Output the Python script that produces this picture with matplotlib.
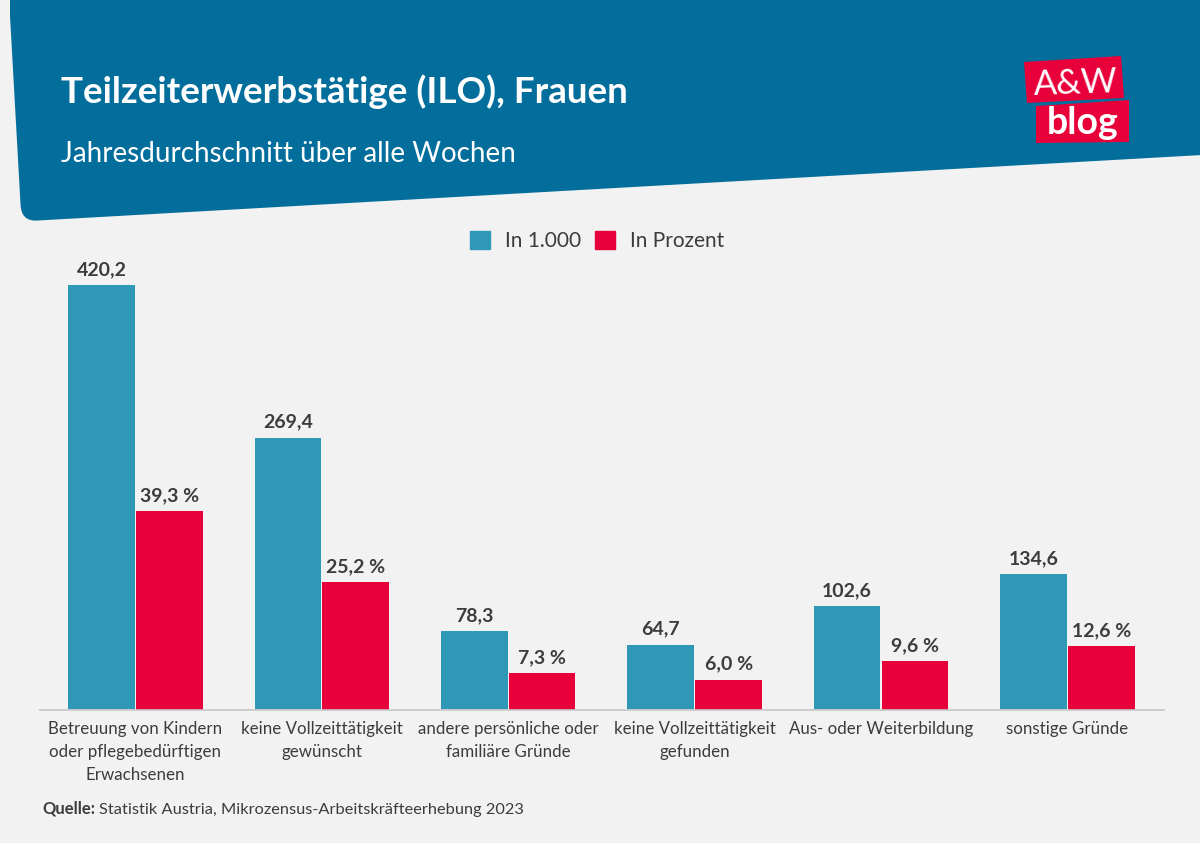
import matplotlib
matplotlib.use("Agg")
import matplotlib.pyplot as plt
from matplotlib.patches import PathPatch, Polygon, Patch
from matplotlib.path import Path

categories = [
    "Betreuung von Kindern\noder pflegebedürftigen\nErwachsenen",
    "keine Vollzeittätigkeit\ngewünscht",
    "andere persönliche oder\nfamiliäre Gründe",
    "keine Vollzeittätigkeit\ngefunden",
    "Aus- oder Weiterbildung",
    "sonstige Gründe",
]
in_tausend = [420.2, 269.4, 78.3, 64.7, 102.6, 134.6]
in_prozent = [39.3, 25.2, 7.3, 6.0, 9.6, 12.6]

BG = "#f2f2f2"
HEADER = "#036e9c"
BLUE = "#2e98b6"
RED = "#e8003a"
DARK = "#3c3c3c"

plt.rcParams["font.family"] = "Lato"

fig = plt.figure(figsize=(12, 8.43), dpi=100, facecolor=BG)

# overlay in pixel coordinates for header and logo
bg = fig.add_axes([0, 0, 1, 1], zorder=0)
bg.set_xlim(0, 1200)
bg.set_ylim(843, 0)
bg.axis("off")

verts = [(10, -2), (1202, -2), (1202, 155), (38, 220.5), (21, 222), (20.5, 204), (10, 16), (10, -2)]
codes = [Path.MOVETO, Path.LINETO, Path.LINETO, Path.LINETO, Path.CURVE3, Path.CURVE3, Path.LINETO, Path.CLOSEPOLY]
bg.add_patch(PathPatch(Path(verts, codes), fc=HEADER, ec="none"))

bg.text(61, 103, "Teilzeiterwerbstätige (ILO), Frauen", color="white", fontsize=26.5,
        fontweight="bold", va="baseline")
bg.text(61, 162, "Jahresdurchschnitt über alle Wochen", color="white", fontsize=20,
        va="baseline")

bg.add_patch(Polygon([(1024, 62), (1121, 56), (1124, 98), (1027, 103)], fc=RED, ec="none"))
bg.add_patch(Polygon([(1036, 106), (1129, 100), (1129, 142), (1036, 143)], fc=RED, ec="none"))
bg.text(1076, 95, "A&W", color="white", fontsize=25, ha="center", va="baseline", rotation=2)
bg.text(1083, 134, "blog", color="white", fontsize=27, fontweight="bold", ha="center", va="baseline")

# chart area: x 40..1164 px, y 225..710 px
ax = fig.add_axes([40 / 1200, 1 - 710 / 843, 1124 / 1200, 485 / 843], zorder=2)
ax.patch.set_alpha(0)
ax2 = ax.twinx()
ax2.patch.set_alpha(0)

x = list(range(len(categories)))
w = 0.357
off = 0.182
ax.bar([i - off for i in x], in_tausend, w, color=BLUE)
ax2.bar([i + off for i in x], in_prozent, w, color=RED)

ax.set_xlim(-0.512, 5.518)
ax.set_ylim(0, 479.5)
ax2.set_ylim(0, 95.8)

for i, v in zip(x, in_tausend):
    ax.annotate(f"{v:.1f}".replace(".", ","), (i - off, v), xytext=(0, 5), textcoords="offset points",
                ha="center", va="bottom", fontsize=14, fontweight="bold", color=DARK)
for i, v in zip(x, in_prozent):
    ax2.annotate(f"{v:.1f} %".replace(".", ","), (i + off, v), xytext=(0, 5), textcoords="offset points",
                 ha="center", va="bottom", fontsize=14, fontweight="bold", color=DARK)

ax.set_xticks(x)
ax.set_xticklabels(categories, fontsize=12.2, color=DARK, linespacing=1.55)
ax.tick_params(axis="x", length=0, pad=8)
ax.set_yticks([])
ax2.set_yticks([])
for a in (ax, ax2):
    for s in ("top", "left", "right"):
        a.spines[s].set_visible(False)
    a.spines["bottom"].set_color("#cccccc")
    a.spines["bottom"].set_linewidth(1.2)

fig.legend(handles=[Patch(color=BLUE, label="In 1.000"), Patch(color=RED, label="In Prozent")],
           loc="center", bbox_to_anchor=(597 / 1200, 1 - 241 / 843), ncol=2, frameon=False,
           fontsize=15, labelcolor=DARK, handlelength=0.95, handleheight=0.95,
           handletextpad=0.7, columnspacing=0.7)

bg.text(42, 814, "Quelle:", fontsize=12, fontweight="bold", color=DARK, va="baseline")
bg.text(99, 814, "Statistik Austria, Mikrozensus-Arbeitskräfteerhebung 2023", fontsize=11.8,
        color=DARK, va="baseline")

fig.savefig("out.png", dpi=100, facecolor=BG)
